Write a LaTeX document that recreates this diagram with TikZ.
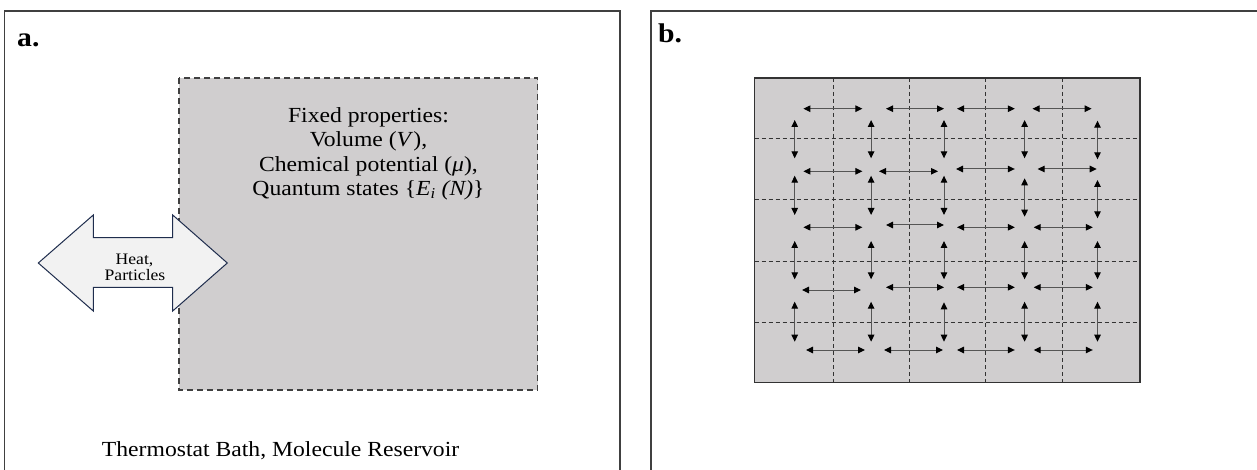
\documentclass[tikz,border=0pt]{standalone}
\usepackage{fontspec}
\setmainfont{Liberation Serif}[FakeStretch=1.1]
\usetikzlibrary{arrows.meta}
\definecolor{boxgray}{RGB}{208,206,207}
\definecolor{framegray}{RGB}{64,64,64}
\definecolor{arrowfill}{RGB}{242,242,242}
\definecolor{arrowedge}{RGB}{31,45,77}
\definecolor{shaftgray}{RGB}{85,85,85}
\tikzset{
  frame/.style={draw=framegray, line width=1.4pt},
  sysbox/.style={draw=framegray, fill=boxgray, line width=1.3pt, dash pattern=on 6pt off 4pt},
  gridbox/.style={draw=black!80, fill=boxgray, line width=1.4pt},
  gridline/.style={draw=black!80, line width=1pt, dash pattern=on 4pt off 3pt},
  hop/.style={draw=shaftgray, line width=1pt, {Triangle[length=7pt,width=6.5pt,color=black]}-{Triangle[length=7pt,width=6.5pt,color=black]}},
  txt/.style={inner sep=0pt, anchor=base, font=\fontsize{21.5}{25}\selectfont},
  small/.style={inner sep=0pt, anchor=base, font=\fontsize{16}{17}\selectfont},
  panel/.style={inner sep=0pt, anchor=base west, font=\fontsize{27}{30}\selectfont\bfseries},
  bigarrow/.style={draw=arrowedge, fill=arrowfill, line width=1pt, line join=miter}
}
\begin{document}
\begin{tikzpicture}[x=1pt,y=-1pt]
\useasboundingbox (0,0) rectangle (1257,470);
% ---------- panel a ----------
\draw[frame] (4.7,475) -- (4.7,11) -- (620,11) -- (620,475);
\node[panel] (la) at (17,46.7) {a.};
\draw[sysbox] (179,78) rectangle (537.5,390);
\node[txt] (fp1) at (368.5,122.7) {Fixed properties:};
\node[txt] (fp2) at (368.5,146.7) {Volume (\textit{V}),};
\node[txt] (fp3) at (368.5,171.2) {Chemical potential (\textit{μ}),};
\node[txt] (fp4) at (368.5,195.7) {Quantum states \{\textit{E\textsubscript{i} (N)}\}};
\draw[bigarrow] (38.3,263) -- (93.3,215) -- (93.3,237.7) -- (172.7,237.7) -- (172.7,215)
  -- (227.3,263) -- (172.7,311) -- (172.7,287.3) -- (93.3,287.3) -- (93.3,311) -- cycle;
\node[small] (heat) at (134.5,264.5) {Heat,};
\node[small] (part) at (135,280.5) {Particles};
\node[txt] (bath) at (280.6,456) {Thermostat Bath, Molecule Reservoir};
% ---------- panel b ----------
\draw[frame] (651,475) -- (651,11) -- (1262,11);
\node[panel] (lb) at (658,42.7) {b.};
\draw[gridbox] (754.6,78) rectangle (1140,382.7);
\foreach \gx in {833,909,985.7,1062.8}
  \draw[gridline] (\gx,78) -- (\gx,382.7);
\foreach \gy in {139,199.3,261.7,322}
  \draw[gridline] (754.6,\gy) -- (1140,\gy);
% horizontal hops
\foreach \xa/\xb/\yy in {
  803.4/862.4/108.7, 886/944/108.7, 957/1014.8/108.7, 1032.5/1091.6/108.7,
  803.4/862.4/171.3, 879/938/171.3, 956/1014.8/169, 1037.6/1096.7/169,
  803.4/862.4/227.3, 886/944/225, 957/1014.8/227.3, 1033.7/1092.8/227.3,
  802/861/290, 886/944/287.3, 957/1014.8/287.3, 1033.7/1092.8/287.3,
  806/865/350, 884/943/350, 957/1014.8/350, 1033.7/1092.8/350}
  \draw[hop] (\xa,\yy) -- (\xb,\yy);
% vertical hops
\foreach \xx/\ya/\yb in {
  794.7/120/158.3, 871.1/120/158.3, 944/120/158.3, 1024.6/120/158.3, 1097.5/120.7/159.3,
  794.7/175.7/215, 871.1/175.7/215, 944/175.7/215, 1024.6/178.3/216.7, 1097.5/180/218.3,
  794.7/241/279.3, 871.1/241/279.3, 944/241/279.3, 1024.6/241/279.3, 1097.5/241/279.3,
  794.7/301.7/341.7, 871.1/301.7/341.7, 944/302.3/341.7, 1024.6/301.7/341.7, 1097.5/301.7/341.7}
  \draw[hop] (\xx,\ya) -- (\xx,\yb);
\end{tikzpicture}
\end{document}
